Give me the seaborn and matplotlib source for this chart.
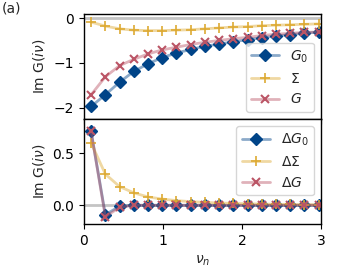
import matplotlib
matplotlib.use('Agg')
import matplotlib.pyplot as plt
from matplotlib.colors import to_rgba
import seaborn as sns

# Matsubara frequencies
nu = [0.09, 0.27, 0.45, 0.63, 0.81, 0.99, 1.17, 1.35, 1.53, 1.71,
      1.89, 2.07, 2.25, 2.43, 2.61, 2.79, 2.97]

# upper panel
g0 = [-1.97, -1.71, -1.43, -1.19, -1.02, -0.88, -0.78, -0.70, -0.63,
      -0.58, -0.53, -0.48, -0.44, -0.40, -0.37, -0.34, -0.31]
sigma = [-0.09, -0.18, -0.24, -0.27, -0.28, -0.28, -0.27, -0.26, -0.24,
         -0.22, -0.20, -0.19, -0.17, -0.16, -0.15, -0.14, -0.13]
g = [-1.71, -1.31, -1.06, -0.92, -0.80, -0.71, -0.65, -0.59, -0.54,
     -0.50, -0.46, -0.43, -0.39, -0.36, -0.34, -0.32, -0.31]

# lower panel
dg0 = [0.71, -0.09, -0.01, 0.0, 0.0, 0.0, 0.0, 0.0, 0.0,
       0.0, 0.0, 0.0, 0.0, 0.0, 0.0, 0.0, 0.0]
dsigma = [0.60, 0.30, 0.18, 0.12, 0.08, 0.06, 0.045, 0.035, 0.028,
          0.022, 0.018, 0.015, 0.012, 0.010, 0.008, 0.007, 0.006]
dg = [0.71, -0.11, -0.02, 0.0, 0.0, 0.0, 0.0, 0.0, 0.0,
      0.0, 0.0, 0.0, 0.0, 0.0, 0.0, 0.0, 0.0]

labels_top = ['$G_0$', r'$\Sigma$', '$G$']
labels_bot = [r'$\Delta G_0$', r'$\Delta\Sigma$', r'$\Delta G$']

blue, yellow, red = '#004488', '#DDAA33', '#BB5566'
styles = [(blue, 'D', 6, 1.0), (yellow, '+', 7, 1.2), (red, 'x', 6, 1.5)]

sns.set_style('ticks')
plt.rcParams['font.family'] = ['DejaVu Sans']
plt.rcParams['font.size'] = 10
plt.rcParams['mathtext.fontset'] = 'dejavusans'

fig, (ax1, ax2) = plt.subplots(2, 1, sharex=True, figsize=(3.38, 2.70), dpi=100)
fig.subplots_adjust(left=84 / 338, right=321 / 338, top=1 - 14 / 270,
                    bottom=1 - 224 / 270, hspace=0)


def draw(ax, series, labels):
    ax.axhline(0, color='#c4c4c4', lw=2, zorder=0)
    for ys, lab, (c, m, ms, mew) in zip(series, labels, styles):
        sns.lineplot(x=nu, y=ys, ax=ax, color=c, marker=m, markersize=ms,
                     markeredgewidth=mew, markerfacecolor=c, markeredgecolor=c,
                     lw=2, label=lab)
        ln = ax.lines[-1]
        ln.set_color(to_rgba(c, 0.45))
        ln.set_markerfacecolor(c)
        ln.set_markeredgecolor(c)
    for sp in ax.spines.values():
        sp.set_color('black')
        sp.set_linewidth(1.0)
    ax.tick_params(colors='black', labelsize=10, length=3.5, width=0.8)


draw(ax1, [g0, sigma, g], labels_top)
draw(ax2, [dg0, dsigma, dg], labels_bot)

ax1.legend(loc='lower right', fontsize=10, handlelength=2.0)
ax2.legend(loc='upper right', fontsize=10, handlelength=2.0)

ax1.set_xlim(0, 3)
ax1.set_ylim(-2.25, 0.09)
ax1.set_yticks([-2, -1, 0])
ax2.set_ylim(-0.18, 0.83)
ax2.set_yticks([0.0, 0.5])
ax2.set_xticks([0, 1, 2, 3])

ax1.set_ylabel(r'Im G($i\nu$)')
ax2.set_ylabel(r'Im G($i\nu$)')
ax2.set_xlabel(r'$\nu_n$')
fig.align_ylabels([ax1, ax2])

fig.text(0.005, 0.995, '(a)', ha='left', va='top', fontsize=10)

fig.savefig('out.png', dpi=100)
